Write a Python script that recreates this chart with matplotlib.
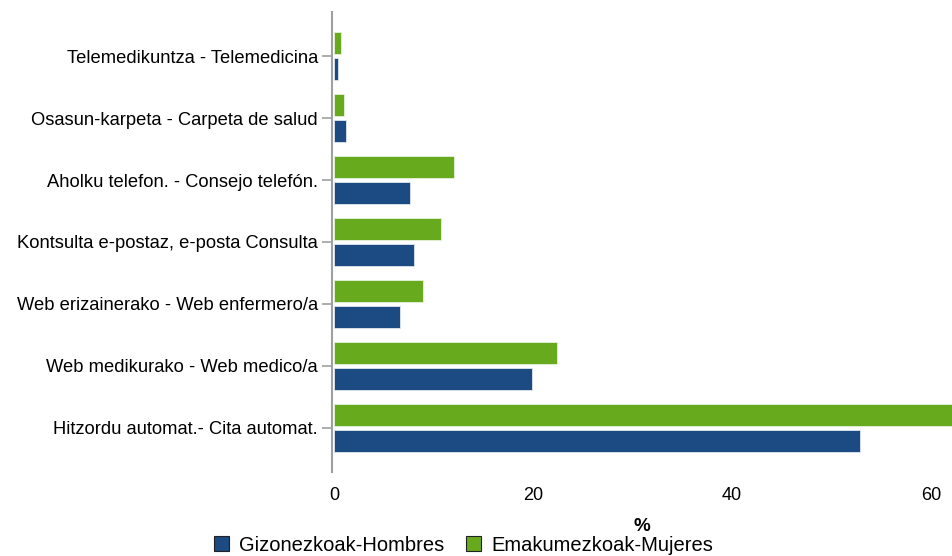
import numpy as np
import matplotlib.pyplot as plt

plt.rcParams['font.family'] = ['Liberation Sans', 'DejaVu Sans']

# categories listed bottom to top
categories = [
    "Hitzordu automat.- Cita automat.",
    "Web medikurako - Web medico/a",
    "Web erizainerako - Web enfermero/a",
    "Kontsulta e-postaz, e-posta Consulta",
    "Aholku telefon. - Consejo telefón.",
    "Osasun-karpeta - Carpeta de salud",
    "Telemedikuntza - Telemedicina",
]
hombres = [52.9, 19.9, 6.6, 8.0, 7.6, 1.2, 0.45]
mujeres = [62.5, 22.4, 8.9, 10.8, 12.1, 1.0, 0.75]
xticks = [0, 20, 40, 60]

blue = "#1b4b82"
green = "#67aa1d"

fig = plt.figure(figsize=(9.52, 5.56), dpi=100)
ax = fig.add_axes([0.3487, 0.1511, 0.6513, 0.8273])

y = np.arange(len(categories))
h = 0.355
ax.barh(y - 0.21, hombres, height=h, color=blue, edgecolor="#dfe6ee", linewidth=0.6,
        label="Gizonezkoak-Hombres")
ax.barh(y + 0.21, mujeres, height=h, color=green, edgecolor="#e6f0dc", linewidth=0.6,
        label="Emakumezkoak-Mujeres")

ax.set_xlim(-0.2, 62.1)
ax.set_ylim(-0.71, len(categories) - 1 + 0.71)
ax.set_yticks(y)
ax.set_yticklabels(categories, fontsize=13.2)
ax.set_xticks(xticks)
ax.set_xticklabels([str(t) for t in xticks], fontsize=13)

for s in ["top", "right", "bottom"]:
    ax.spines[s].set_visible(False)
ax.spines["left"].set_color("#a0a0a0")
ax.spines["left"].set_linewidth(1.5)
ax.tick_params(axis="y", length=7, color="#a0a0a0", width=1.2, pad=3)
ax.tick_params(axis="x", length=0, pad=11)

ax.set_xlabel("%", fontsize=13.5, fontweight="bold", labelpad=10)

fig.legend(loc="lower center", bbox_to_anchor=(0.487, -0.03), ncol=2, frameon=False,
           fontsize=14.5, handlelength=0.75, handleheight=0.75, handletextpad=0.5,
           columnspacing=1.1)
for p in fig.legends[0].get_patches():
    p.set_edgecolor("#222222")
    p.set_linewidth(0.8)

fig.savefig("out.png", dpi=100)
